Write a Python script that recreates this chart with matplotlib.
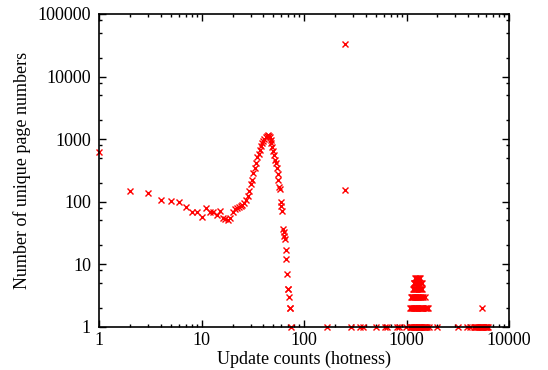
import matplotlib
matplotlib.use("Agg")
import matplotlib.pyplot as plt
from matplotlib.ticker import LogLocator, FixedLocator, NullFormatter

# Main curve: update count -> number of unique pages
main_x = [1, 2, 3, 4, 5, 6, 7, 8, 9, 10, 11, 12, 13, 14, 15, 16, 17, 18, 19,
          20, 21, 22, 23, 24, 25, 26, 27, 28, 29, 30, 31, 32, 33, 34, 35, 36,
          37, 38, 39, 40, 41, 42, 43, 44, 45, 46, 47, 48, 49, 50, 51, 52, 53,
          54, 55, 56, 57, 58, 59, 60, 61, 62, 63, 64, 65, 66, 67, 68, 69, 70,
          71, 72, 73, 74]
main_y = [620, 150, 135, 107, 104, 97, 82, 68, 68, 57, 80, 68, 68, 62, 70, 55,
          52, 50, 55, 68, 75, 80, 82, 85, 88, 95, 105, 125, 150, 190, 220, 290,
          340, 420, 520, 580, 680, 780, 850, 930, 1000, 1080, 1130, 1150, 1120,
          1080, 980, 880, 760, 640, 560, 470, 420, 350, 280, 220, 170, 160, 100,
          85, 70, 37, 33, 28, 25, 17, 12, 7, 4, 4, 3, 2, 2, 1]

# Isolated points
outlier_x = [167, 248, 248, 5420]
outlier_y = [1, 33300, 153, 2]

# Scattered single pages (y = 1)
single_x = [290, 352, 372, 504, 617, 650, 802, 851, 988, 2000, 3200, 3870, 4170]

# Hot cluster around 1000-1700 updates
cluster1_x = [1090, 1110, 1130, 1150, 1170, 1190, 1210, 1230, 1250, 1270, 1290,
              1310, 1330, 1350, 1380, 1410, 1440, 1470, 1500, 1530, 1560, 1600,
              1650]
cluster2_x = [1090, 1110, 1130, 1150, 1170, 1190, 1210, 1230, 1250, 1270, 1290,
              1310, 1340, 1370, 1400, 1430, 1460, 1500, 1540, 1580, 1620]
cluster3_x = [1100, 1120, 1140, 1160, 1180, 1200, 1220, 1240, 1260, 1280, 1300,
              1330, 1360, 1390, 1420, 1460, 1510]
cluster4_x = [1150, 1170, 1190, 1210, 1230, 1250, 1270, 1290, 1310, 1340, 1370,
              1410]
cluster5_x = [1170, 1190, 1210, 1240, 1270, 1300, 1330, 1370, 1410]
cluster6_x = [1200, 1230, 1260, 1290, 1320, 1360]

# Hottest cluster (y = 1)
hot_x = [4600, 4700, 4800, 4900, 5000, 5100, 5200, 5300, 5400, 5500, 5600,
         5700, 5800, 5900, 6000, 6100, 6200]

xticks = [1, 10, 100, 1000, 10000]
xtick_labels = ["1", "10", "100", "1000", "10000"]
yticks = [1, 10, 100, 1000, 10000, 100000]
ytick_labels = ["1", "10", "100", "1000", "10000", "100000"]

plt.rcParams['font.family'] = ['Liberation Serif', 'DejaVu Serif']

fig = plt.figure(figsize=(5.48, 3.70), dpi=100)
ax = fig.add_axes([0.1812, 0.117, 0.9288 - 0.1812, 0.9622 - 0.117])

mk = dict(linestyle='none', marker='x', color='#ff0000', markersize=4.5,
          markeredgewidth=1.0, clip_on=False)

ax.plot(main_x, main_y, **mk)
ax.plot(outlier_x, outlier_y, **mk)
ax.plot(single_x, [1] * len(single_x), **mk)
for ys, xs in [(1, cluster1_x), (2, cluster2_x), (3, cluster3_x),
               (4, cluster4_x), (5, cluster5_x), (6, cluster6_x)]:
    ax.plot(xs, [ys] * len(xs), **mk)
ax.plot(hot_x, [1] * len(hot_x), **mk)

ax.set_xscale('log')
ax.set_yscale('log')
ax.set_xlim(1, 10000)
ax.set_ylim(1, 100000)

ax.xaxis.set_major_locator(FixedLocator(xticks))
ax.set_xticklabels(xtick_labels)
ax.yaxis.set_major_locator(FixedLocator(yticks))
ax.set_yticklabels(ytick_labels)
ax.xaxis.set_minor_locator(LogLocator(base=10, subs=range(2, 10), numticks=20))
ax.yaxis.set_minor_locator(LogLocator(base=10, subs=[2, 5, 8], numticks=20))
ax.xaxis.set_minor_formatter(NullFormatter())
ax.yaxis.set_minor_formatter(NullFormatter())

ax.tick_params(which='both', direction='in', top=True, right=True,
               labelsize=13, color='black', width=1.0)
ax.tick_params(which='major', length=5)
ax.tick_params(which='minor', length=2.5)
ax.tick_params(axis='x', which='major', pad=4)
ax.tick_params(axis='y', which='major', pad=6)
for s in ax.spines.values():
    s.set_linewidth(1.2)

ax.set_xlabel("Update counts (hotness)", fontsize=13, labelpad=1)
ax.set_ylabel("Number of unique page numbers", fontsize=13, labelpad=5)

fig.savefig("out.png", dpi=100)
